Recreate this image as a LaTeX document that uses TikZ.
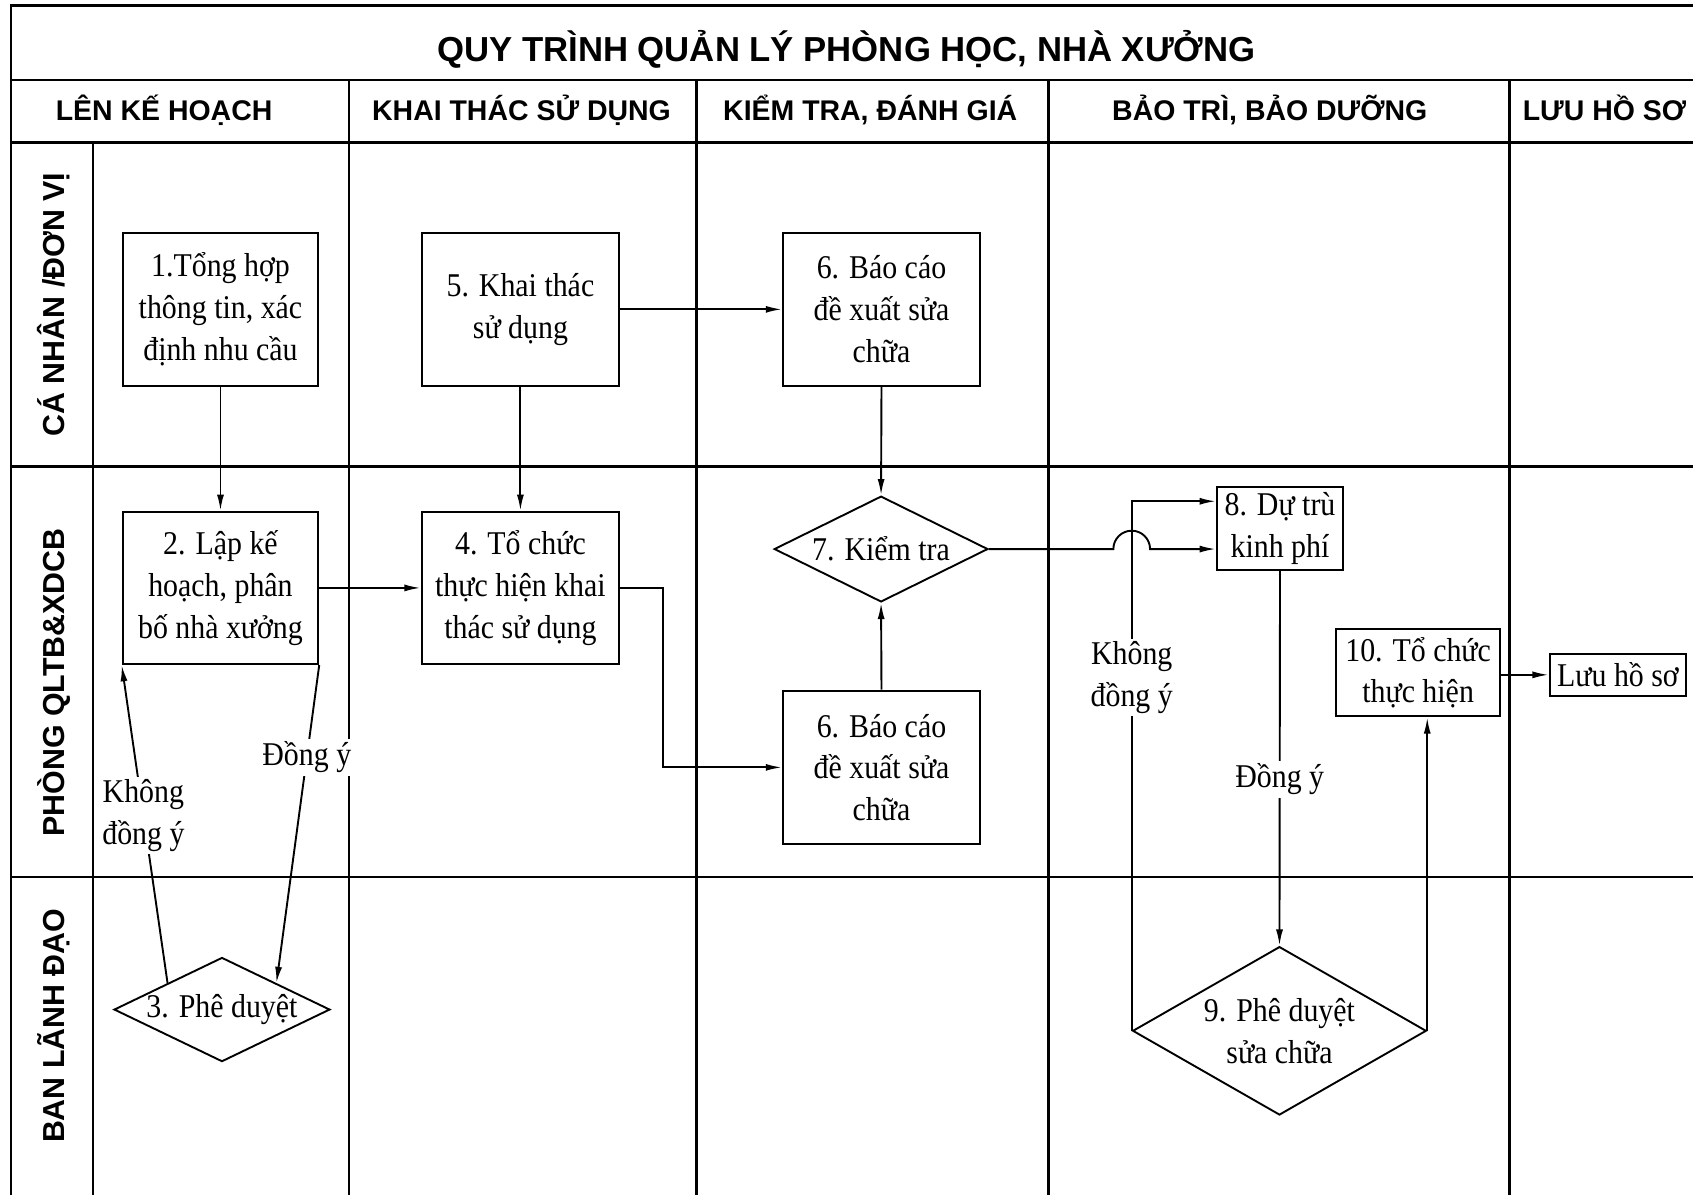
\documentclass[tikz,border=0pt]{standalone}
\usepackage{fontspec}
\setmainfont{Liberation Serif}
\newfontfamily\boxfont[FakeStretch=0.9]{Liberation Serif}
\newfontfamily\hdfont{Liberation Sans}
\usetikzlibrary{arrows.meta,shapes.geometric,calc}
\newcommand{\bxf}{\boxfont\fontsize{17.5}{22}\selectfont}
\newcommand{\zw}[1]{\makebox[0pt]{#1}}
\tikzset{
  tbl/.style={line width=1.3pt},
  box/.style={draw, line width=1.1pt, align=center, font=\bxf, inner sep=0pt},
  dia/.style={draw, diamond, line width=1pt, align=center, font=\bxf, inner sep=0pt},
  arr/.style={line width=1pt, -{Latex[length=3mm,width=1.3mm]}},
  lbl/.style={fill=white, align=center, font=\bxf, inner sep=1.5pt},
  ttl/.style={font=\hdfont\bfseries\fontsize{18.3}{21}\selectfont, anchor=base},
  hdr/.style={font=\hdfont\bfseries\fontsize{15}{18}\selectfont, anchor=base},
  lane/.style={font=\hdfont\bfseries\fontsize{16}{19}\selectfont, rotate=90}
}
\begin{document}
\begin{tikzpicture}[x=0.02cm, y=-0.02cm]
\useasboundingbox (0,0) rectangle (1568,1107);
% table grid
\draw[tbl] (10,1107) -- (10,5) -- (1580,5);
\draw[tbl] (10,74) -- (1580,74);
\draw[tbl] (10,132) -- (1580,132);
\draw[tbl] (10,432) -- (1580,432);
\draw[tbl] (10,812) -- (1580,812);
\draw[tbl] (86,132) -- (86,1107);
\foreach \cx in {323,645,971,1398} \draw[tbl] (\cx,74) -- (\cx,1107);
% title and headers
\node[ttl] (title) at (784,57) {QUY TRÌNH QUẢN LÝ PHÒNG HỌC, NHÀ XƯỞNG};
\node[hdr] (h1) at (152,112) {LÊN KẾ HOẠCH};
\node[hdr] (h2) at (483,112) {KHAI THÁC SỬ DỤNG};
\node[hdr] (h3) at (806,112) {KIỂM TRA, ĐÁNH GIÁ};
\node[hdr] (h4) at (1176,112) {BẢO TRÌ, BẢO DƯỠNG};
\node[hdr] (h5) at (1486,112) {LƯU HỒ SƠ};
% lane labels
\node[lane] (l1) at (50,282) {CÁ NHÂN /ĐƠN VỊ};
\node[lane] (l2) at (50,632) {PHÒNG QLTB\&XDCB};
\node[lane] (l3) at (50,950) {BAN LÃNH ĐẠO};
% process nodes
\node[box, minimum width=3.62cm, minimum height=2.84cm] (n1) at (204.2,286.5) {1.Tổng hợp\\thông tin, xác\\định nhu cầu};
\node[box, minimum width=3.64cm, minimum height=2.84cm] (n5) at (482,286.5) {5. Khai thác\\sử dụng};
\node[box, minimum width=3.65cm, minimum height=2.84cm] (n6a) at (816.4,286.5) {6. Báo cáo\\đề xuất sửa\\chữa};
\node[box, minimum width=3.62cm, minimum height=2.82cm] (n2) at (204.2,544.5) {2. Lập kế\\hoạch, phân\\bố nhà xưởng};
\node[box, minimum width=3.66cm, minimum height=2.82cm] (n4) at (482,544.5) {4. Tổ chức\\thực hiện khai\\thác sử dụng};
\node[box, minimum width=3.65cm, minimum height=2.84cm] (n6b) at (816.4,710.7) {6. Báo cáo\\đề xuất sửa\\chữa};
\node[dia, minimum width=3.96cm, minimum height=1.96cm] (n7) at (816,508.5) {\zw{7. Kiểm tra}};
\node[dia, minimum width=4.0cm, minimum height=1.93cm] (n3) at (205.6,935) {\zw{3. Phê duyệt}};
\node[box, minimum width=2.34cm, minimum height=1.54cm] (n8) at (1185.5,489.5) {8. Dự trù\\kinh phí};
\node[dia, minimum width=5.44cm, minimum height=3.12cm] (n9) at (1185,954.7) {\zw{9. Phê duyệt}\\\zw{sửa chữa}};
\node[box, minimum width=3.05cm, minimum height=1.62cm] (n10) at (1313.4,623) {10. Tổ chức\\thực hiện};
\node[box, minimum width=2.53cm, minimum height=0.78cm] (n11) at (1498.5,625) {Lưu hồ sơ};
% entry points on box 8
\coordinate (in8a) at ($(n8.north west)!0.18!(n8.south west)$);
% connectors
\draw[arr] (n1.south) -- (n2.north);
\draw[arr] (n5.south) -- (n4.north);
\draw[arr] (n5.east) -- (n6a.west);
\draw[arr] (n2.east) -- (n4.west);
\draw[arr] (n4.east) -- ++(40,0) |- (n6b.west);
\draw[arr] (n6a.south) -- (n7.north);
\draw[arr] (n6b.north) -- (n7.south);
\draw[arr] (n7.east) -- ($(n7.east -| n9.west)+(-17,0)$) arc[start angle=180, end angle=0, radius=0.34cm] -- (n7.east -| n8.west);
\draw[arr] (n9.west) -- node[lbl, pos=0.667] {Không\\đồng ý} (n9.west |- in8a) -- (in8a);
\draw[arr] (n8.south) -- node[lbl, pos=0.556] {Đồng ý} (n9.north);
\draw[arr] (n9.east) -- (n9.east |- n10.south);
\draw[arr] (n10.east |- n11.west) -- (n11.west);
\draw[arr] (n2.south east) -- node[lbl, pos=0.29] {Đồng ý} ($(n3.north)!0.5!(n3.east)$);
\draw[arr] ($(n3.north)!0.5!(n3.west)$) -- node[lbl, pos=0.527] {Không\\đồng ý} (n2.south west);
\end{tikzpicture}
\end{document}
